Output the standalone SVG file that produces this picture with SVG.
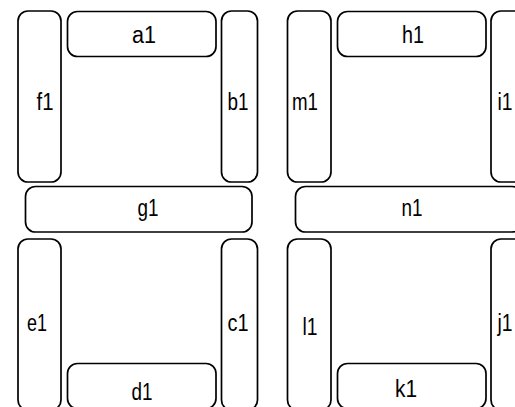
<svg xmlns="http://www.w3.org/2000/svg" width="515" height="407" viewBox="0 0 515 407">
<style>
rect{fill:#fff;stroke:#000;stroke-width:1.7}
text{font-family:"Liberation Sans","DejaVu Sans",sans-serif;font-size:23px;fill:#000;text-anchor:middle}
</style>
<rect x="0" y="0" width="515" height="407" style="stroke:none"/>
<g id="f1"><rect x="18" y="11" width="43" height="171" rx="10"/><text x="45" y="110" textLength="17" lengthAdjust="spacingAndGlyphs">f1</text></g>
<g id="a1"><rect x="67.5" y="11.5" width="148.5" height="45" rx="10"/><text x="144" y="43" textLength="24" lengthAdjust="spacingAndGlyphs">a1</text></g>
<g id="b1"><rect x="221.5" y="11" width="36" height="171" rx="10"/><text x="238" y="110" textLength="21" lengthAdjust="spacingAndGlyphs">b1</text></g>
<g id="g1"><rect x="25.5" y="186.5" width="226.5" height="45.5" rx="10"/><text x="148" y="216" textLength="21" lengthAdjust="spacingAndGlyphs">g1</text></g>
<g id="e1"><rect x="18" y="239" width="43" height="171" rx="10"/><text x="37" y="331" textLength="20" lengthAdjust="spacingAndGlyphs">e1</text></g>
<g id="c1"><rect x="221.5" y="239" width="36" height="171" rx="10"/><text x="238" y="331" textLength="21" lengthAdjust="spacingAndGlyphs">c1</text></g>
<g id="d1"><rect x="67.5" y="363.5" width="148.5" height="45" rx="10"/><text x="142" y="400" textLength="21" lengthAdjust="spacingAndGlyphs">d1</text></g>
<g id="m1"><rect x="287.5" y="11" width="43.5" height="171" rx="10"/><text x="305" y="110" textLength="26" lengthAdjust="spacingAndGlyphs">m1</text></g>
<g id="h1"><rect x="337.5" y="11.5" width="148.5" height="45" rx="10"/><text x="413" y="43" textLength="22" lengthAdjust="spacingAndGlyphs">h1</text></g>
<g id="i1"><rect x="491" y="11" width="44" height="171" rx="10"/><text x="505" y="110" textLength="15" lengthAdjust="spacingAndGlyphs">i1</text></g>
<g id="n1"><rect x="295.5" y="186.5" width="226.5" height="45.5" rx="10"/><text x="412" y="216" textLength="21" lengthAdjust="spacingAndGlyphs">n1</text></g>
<g id="l1"><rect x="287.5" y="239" width="43.5" height="171" rx="10"/><text x="310" y="335" textLength="15" lengthAdjust="spacingAndGlyphs">l1</text></g>
<g id="j1"><rect x="491" y="239" width="44" height="171" rx="10"/><text x="505" y="331" textLength="15" lengthAdjust="spacingAndGlyphs">j1</text></g>
<g id="k1"><rect x="337.5" y="363.5" width="148.5" height="45" rx="10"/><text x="406" y="397" textLength="22" lengthAdjust="spacingAndGlyphs">k1</text></g>
<g id="connectors"></g>
</svg>
